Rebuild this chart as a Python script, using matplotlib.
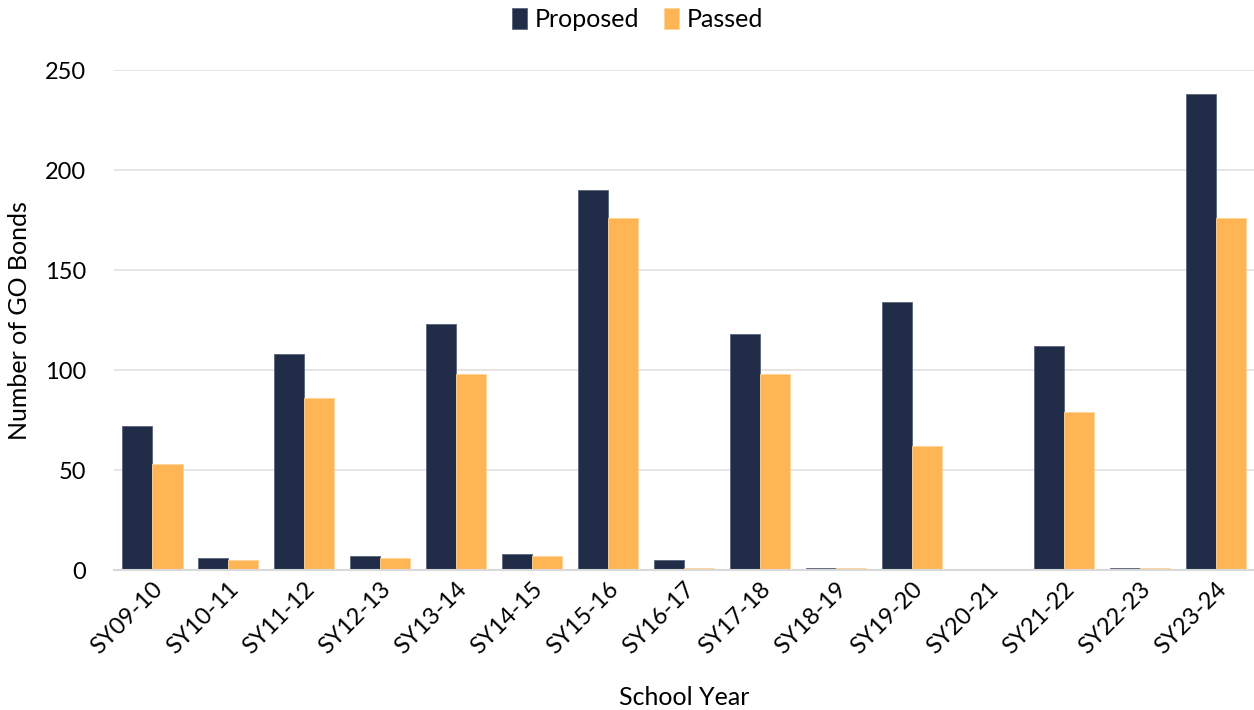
import matplotlib
matplotlib.use("Agg")
import matplotlib.pyplot as plt
import numpy as np

years = ["SY09-10", "SY10-11", "SY11-12", "SY12-13", "SY13-14", "SY14-15",
         "SY15-16", "SY16-17", "SY17-18", "SY18-19", "SY19-20", "SY20-21",
         "SY21-22", "SY22-23", "SY23-24"]
proposed = [72, 6, 108, 7, 123, 8, 190, 5, 118, 1, 134, 0, 112, 1, 238]
passed = [53, 5, 86, 6, 98, 7, 176, 1, 98, 1, 62, 0, 79, 1, 176]

plt.rcParams['font.family'] = ['Lato', 'DejaVu Sans']

fig = plt.figure(figsize=(12.54, 7.10), dpi=100)
ax = fig.add_axes([0.091, 0.197, 0.909, 0.704])

x = np.arange(len(years))
w = 0.4
ax.bar(x - w / 2, proposed, w, color="#212D48", label="Proposed",
       edgecolor="#5A6478", linewidth=0.6)
ax.bar(x + w / 2, passed, w, color="#FFB554", label="Passed",
       edgecolor="#FFD49A", linewidth=0.6)

ax.set_xlim(-0.5, len(years) - 0.5)
ax.set_ylim(0, 250)
ax.set_yticks([0, 50, 100, 150, 200, 250])
ax.yaxis.grid(True, color="#E0E0E0", linewidth=1.2)
ax.set_axisbelow(True)
for s in ["top", "right", "left"]:
    ax.spines[s].set_visible(False)
ax.spines["bottom"].set_color("#D9D9D9")
ax.spines["bottom"].set_linewidth(1.5)
ax.tick_params(axis="both", length=0, labelsize=17, colors="#000000")
ax.tick_params(axis="y", pad=20)
ax.tick_params(axis="x", pad=6)
ax.set_xticks(x)
ax.set_xticklabels(years, rotation=45, ha="right", rotation_mode="anchor")
ax.set_xlabel("School Year", fontsize=18, labelpad=20)
ax.set_ylabel("Number of GO Bonds", fontsize=18, labelpad=10)

ax.legend(loc="upper center", bbox_to_anchor=(0.459, 1.17), ncol=2, frameon=False,
          fontsize=18, handlelength=0.6, handleheight=0.9, handletextpad=0.3,
          columnspacing=1.0)

fig.savefig("out.png", dpi=100)
